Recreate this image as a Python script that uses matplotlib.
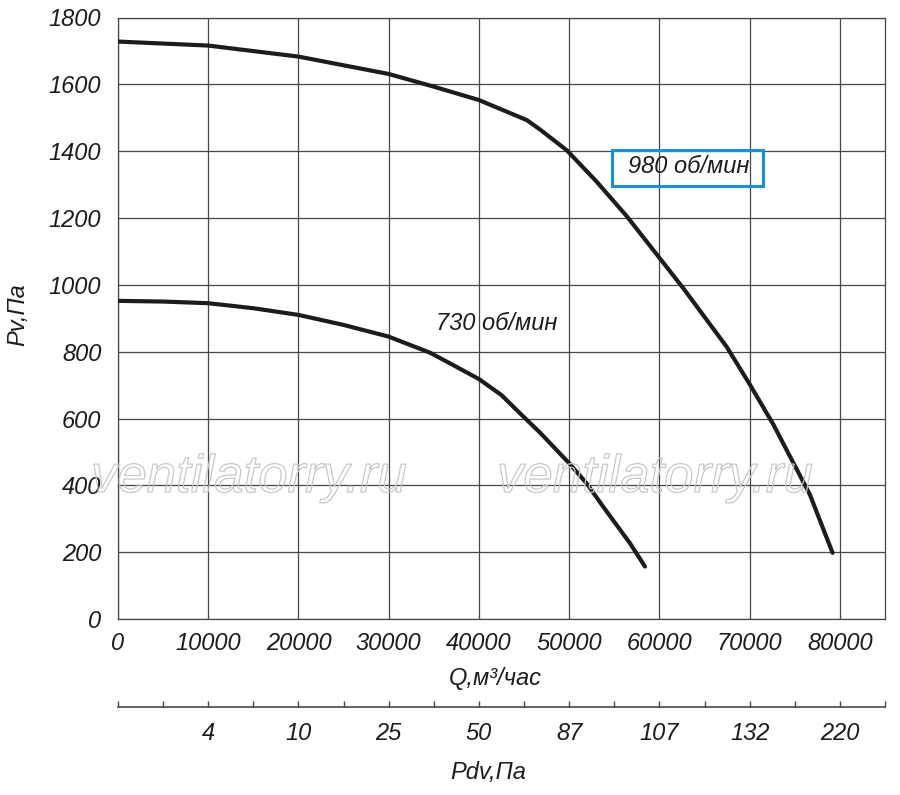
import matplotlib
matplotlib.use("Agg")
import matplotlib.pyplot as plt
import matplotlib.patheffects as pe
from matplotlib.patches import Rectangle
import numpy as np

# fan curves
q_730 = [0, 5000, 10000, 15000, 20000, 25000, 30000, 34570, 37000, 40000, 42500, 44910, 46760,
         50000, 51930, 53770, 56730, 58400]
p_730 = [952, 950, 945, 930, 910, 880, 845, 797, 762, 718, 670, 606, 558,
         466, 406, 336, 227, 157]

q_980 = [0, 10000, 20000, 30000, 35000, 40000, 45300, 46760, 49720, 53000, 56360, 59910,
         62640, 67440, 69950, 72610, 74830, 76680, 79190]
p_980 = [1728, 1716, 1683, 1631, 1593, 1553, 1493, 1465, 1403, 1310, 1206, 1084,
         990, 815, 705, 583, 468, 372, 198]

q_ticks = [0, 10000, 20000, 30000, 40000, 50000, 60000, 70000, 80000]
p_ticks = [0, 200, 400, 600, 800, 1000, 1200, 1400, 1600, 1800]
pdv_pos = [10000, 20000, 30000, 40000, 50000, 60000, 70000, 80000]
pdv_labels = ['4', '10', '25', '50', '87', '107', '132', '220']

FONT = ['Liberation Sans Narrow', 'Liberation Sans', 'DejaVu Sans']
plt.rcParams['font.family'] = FONT
plt.rcParams['font.style'] = 'italic'
FS = 17
INK = '#1c1c1c'
GRID = '#474747'

W, H = 900, 795
fig = plt.figure(figsize=(9, 7.95), dpi=100)

left, right, top, bottom = 118, 885, 17.5, 619
ax = fig.add_axes([left / W, 1 - bottom / H, (right - left) / W, (bottom - top) / H])
ax.set_xlim(0, 85000)
ax.set_ylim(0, 1800)

ax.plot(q_980, p_980, color=INK, lw=3.0, solid_capstyle='round', solid_joinstyle='round', zorder=3)
ax.plot(q_730, p_730, color=INK, lw=3.0, solid_capstyle='round', solid_joinstyle='round', zorder=3)

ax.set_xticks(q_ticks)
ax.set_yticks(p_ticks)
ax.grid(True, color=GRID, lw=0.9)
ax.tick_params(length=0, labelsize=FS, colors=INK)
ax.tick_params(axis='x', pad=9)
ax.tick_params(axis='y', pad=12)
for s in ax.spines.values():
    s.set_color(GRID)
    s.set_linewidth(0.9)

ax.text(42000, 885, '730 об/мин', fontsize=FS, ha='center', va='center', color=INK)
ax.text(63200, 1355, '980 об/мин', fontsize=FS, ha='center', va='center', color=INK)
fig.patches.append(Rectangle((612 / W, 1 - 186 / H), 151 / W, 36 / H, transform=fig.transFigure,
                             fill=False, ec='#1a8fdc', lw=2.2, zorder=4))

# second scale: dynamic pressure
ax2 = fig.add_axes([left / W, 1 - 707 / H, (right - left) / W, 0.0001])
ax2.set_xlim(0, 85000)
ax2.set_ylim(0, 1)
ax2.set_yticks([])
for k in ['top', 'left', 'right']:
    ax2.spines[k].set_visible(False)
ax2.spines['bottom'].set_color(GRID)
ax2.spines['bottom'].set_linewidth(1.2)
ax2.set_xticks(pdv_pos)
ax2.set_xticklabels(pdv_labels)
ax2.set_xticks(np.arange(0, 85001, 5000), minor=True)
ax2.tick_params(axis='x', which='both', direction='in', length=4, width=1,
                colors=GRID, labelcolor=INK, labelsize=FS, pad=11)
ax2.patch.set_visible(False)

fig.text(18 / W, 1 - 315 / H, 'Pv,Па', rotation=90, fontsize=FS, ha='center', va='center', color=INK)
fig.text(495 / W, 1 - 678 / H, 'Q,м³/час', fontsize=FS, ha='center', va='center', color=INK)
fig.text(488 / W, 1 - 773 / H, 'Pdv,Па', fontsize=FS, ha='center', va='center', color=INK)

# watermark
for cx in (249, 655):
    fig.text(cx / W, 1 - 492 / H, 'ventilatorry.ru', fontsize=38, ha='center', va='baseline',
             color=(1, 1, 1, 0), family=['Liberation Sans', 'DejaVu Sans'],
             path_effects=[pe.withStroke(linewidth=0.9, foreground='#c8c8c8')])

fig.savefig('out.png', dpi=100)
